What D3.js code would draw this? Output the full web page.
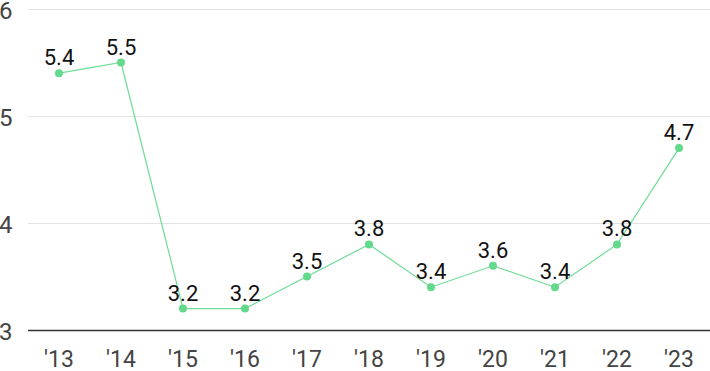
<!DOCTYPE html>
<html>
<head>
<meta charset="utf-8">
<script src="https://cdn.jsdelivr.net/npm/d3@7"></script>
<style>
  html, body { margin: 0; padding: 0; background: #fff; }
  svg { display: block; font-family: Roboto, "Noto Sans", sans-serif; }
</style>
</head>
<body>
<svg id="chart" width="710" height="371"></svg>
<script>
const years = ["'13", "'14", "'15", "'16", "'17", "'18", "'19", "'20", "'21", "'22", "'23"];
const values = [5.4, 5.5, 3.2, 3.2, 3.5, 3.8, 3.4, 3.6, 3.4, 3.8, 4.7];
const yTicks = [3, 4, 5, 6];

const svg = d3.select("#chart");
const x = d3.scalePoint().domain(years).range([59, 679]);
const y = d3.scaleLinear().domain([3, 6]).range([330, 9]);

// grid
svg.append("g").selectAll("line").data(yTicks).join("line")
  .attr("x1", 28).attr("x2", 710)
  .attr("y1", d => Math.round(y(d)) + 0.5).attr("y2", d => Math.round(y(d)) + 0.5)
  .attr("stroke", d => d === 3 ? "#333" : "#e2e2e2")
  .attr("stroke-width", d => d === 3 ? 1.3 : 1);

// y labels
svg.append("g").selectAll("text").data(yTicks).join("text")
  .attr("x", -1).attr("y", d => y(d) + 10)
  .attr("font-size", 24).attr("fill", "#444")
  .text(d => d);

// x labels
svg.append("g").selectAll("text").data(years).join("text")
  .attr("x", d => x(d)).attr("y", 367)
  .attr("text-anchor", "middle").attr("font-size", 23).attr("fill", "#444")
  .text(d => d);

const data = years.map((yr, i) => ({ yr, v: values[i] }));

svg.append("path").datum(data)
  .attr("fill", "none").attr("stroke", "#6ddc95").attr("stroke-width", 1.2)
  .attr("d", d3.line().x(d => x(d.yr)).y(d => y(d.v)));

svg.append("g").selectAll("circle").data(data).join("circle")
  .attr("cx", d => x(d.yr)).attr("cy", d => y(d.v)).attr("r", 4)
  .attr("fill", "#62d98b");

svg.append("g").selectAll("text").data(data).join("text")
  .attr("x", d => x(d.yr)).attr("y", d => y(d.v) - 8)
  .attr("text-anchor", "middle").attr("font-size", 22).attr("fill", "#111")
  .text(d => d.v.toFixed(1));
</script>
</body>
</html>
